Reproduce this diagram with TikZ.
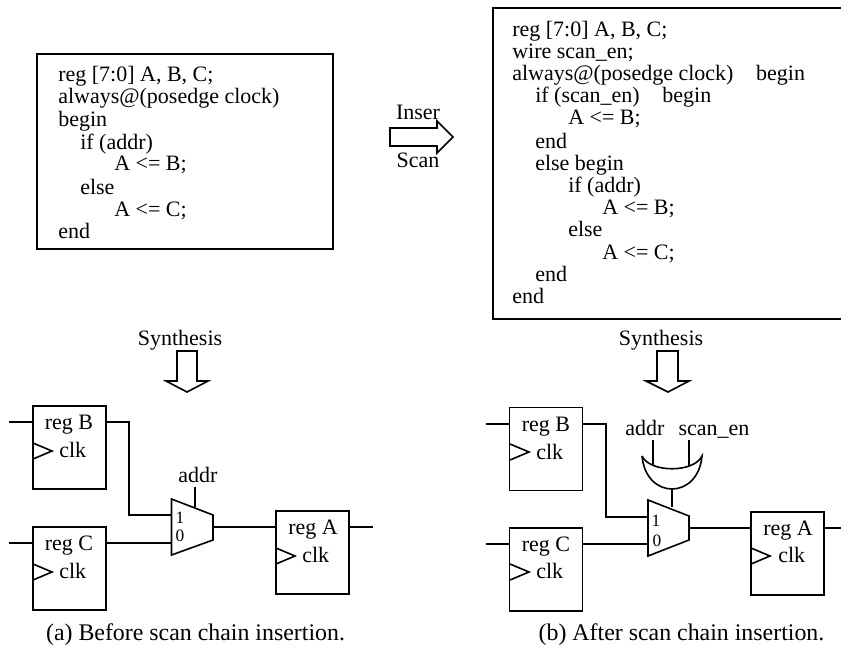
\documentclass[tikz,border=0pt]{standalone}
\usepackage{fontspec}
\setmainfont{Liberation Serif}
\begin{document}
\begin{tikzpicture}[x=0.75pt,y=-0.75pt]
		\tikzstyle{box}=[draw,line width=1.3pt,inner sep=0pt]
		\tikzstyle{reg}=[draw,line width=1.2pt,inner sep=0pt,minimum width=54.75pt,minimum height=62.25pt]
		\tikzstyle{txt}=[inner sep=0pt,anchor=base,font=\fontsize{16.5}{19}\selectfont]
		\tikzstyle{code}=[txt,anchor=base west]
		\tikzstyle{digit}=[txt,font=\fontsize{13}{15}\selectfont]
		\tikzstyle{wire}=[line width=1.2pt]
		\useasboundingbox (0,0) rectangle (841,649);
		
		% source before the scan insertion
		\node (srcA) at (185,151.5) [box,minimum width=222pt,minimum height=146pt] {};
		\node (a1) at (58,82) [code] {reg [7:0] A, B, C;};
		\node (a2) at (58,104) [code] {always@(posedge clock)};
		\node (a3) at (58,127) [code] {begin};
		\node (a4) at (80,149) [code] {if (addr)};
		\node (a5) at (114,171) [code] {A <= B;};
		\node (a6) at (80,194) [code] {else};
		\node (a7) at (114,216) [code] {A <= C;};
		\node (a8) at (58,238) [code] {end};
		
		% source after the scan insertion
		\node (srcB) at (669,163.5) [box,minimum width=264pt,minimum height=233.25pt] {};
		\node (b1) at (512,36.5) [code] {reg [7:0] A, B, C;};
		\node (b2) at (512,58.5) [code] {wire scan\_en;};
		\node (b3) at (512,81) [code] {always@(posedge clock)\hspace{17pt}begin};
		\node (b4) at (535,103) [code] {if (scan\_en)\hspace{17pt}begin};
		\node (b5) at (568,125) [code] {A <= B;};
		\node (b6) at (535,148) [code] {end};
		\node (b7) at (535,170) [code] {else begin};
		\node (b8) at (568,192) [code] {if (addr)};
		\node (b9) at (602,214) [code] {A <= B;};
		\node (b10) at (568,236) [code] {else};
		\node (b11) at (602,259) [code] {A <= C;};
		\node (b12) at (535,281) [code] {end};
		\node (b13) at (512,303) [code] {end};
		
		% block arrows
		\node (inser) at (418,120) [txt] {Inser};
		\node (scan) at (418,167) [txt] {Scan};
		\draw[wire] (390,128)--(437,128)--(437,121)--(453,137)--(437,153)--(437,146)--(390,146)--cycle;
		\node (synA) at (180,345) [txt] {Synthesis};
		\draw[wire] (177,351)--(197,351)--(197,381)--(208,381)--(187,392)--(166,381)--(177,381)--cycle;
		\node (synB) at (661,345) [txt] {Synthesis};
		\draw[wire] (657,351)--(678,351)--(678,381)--(689,381)--(668,392)--(646,381)--(657,381)--cycle;
		
		% (a) registers
		\node (regBa) at (69.5,447.5) [reg] {};
		\node (regCa) at (69.5,568.5) [reg] {};
		\node (regAa) at (312.5,552.5) [reg] {};
		\node (nBa) at (69,429) [txt] {reg B};
		\node (nCa) at (69,550) [txt] {reg C};
		\node (nAa) at (313,534) [txt] {reg A};
		\node (cBa) at (59,457) [code] {clk};
		\node (cCa) at (59,578) [code] {clk};
		\node (cAa) at (302,562) [code] {clk};
		\coordinate (ckBa) at (33,451);
		\coordinate (ckCa) at (33,572);
		\coordinate (ckAa) at (276,556);
		\draw[wire] (ckBa)+(0,-8)--+(19,0)--+(0,8);
		\draw[wire] (ckCa)+(0,-8)--+(19,0)--+(0,8);
		\draw[wire] (ckAa)+(0,-8)--+(19,0)--+(0,8);
		
		% (a) mux
		\coordinate (muxTa) at (171.5,499);
		\coordinate (muxBa) at (171.5,555);
		\coordinate (in1a) at (171.5,515);
		\coordinate (in0a) at (171.5,543);
		\coordinate (outa) at (213,527);
		\coordinate (sela) at (195,507);
		\draw[wire] (muxTa)--(213,515)--(213,540)--(muxBa)--cycle;
		\node (m1a) at (180,523) [digit] {1};
		\node (m0a) at (180,541) [digit] {0};
		\node (addra) at (198,482) [txt] {addr};
		
		% (a) wires
		\coordinate (pBa) at (9,422);
		\coordinate (pCa) at (9,543);
		\coordinate (pAa) at (373,527);
		\coordinate (topa) at (195,487);
		\draw[wire] (pBa)--(regBa.west |- pBa);
		\draw[wire] (pCa)--(regCa.west |- pCa);
		\draw[wire] (regBa.east |- pBa)--(129,422)--(129,515)--(in1a);
		\draw[wire] (regCa.east |- in0a)--(in0a);
		\draw[wire] (outa)--(regAa.west |- outa);
		\draw[wire] (regAa.east |- pAa)--(pAa);
		\draw[wire] (topa)--(sela);
		\node (capa) at (195.5,640) [txt,font=\fontsize{17.9}{21}\selectfont] {(a) Before scan chain insertion.};
		
		% (b) registers
		\node (regBb) at (546,449) [reg] {};
		\node (regCb) at (546,569.5) [reg] {};
		\node (regAb) at (787.5,553.5) [reg] {};
		\node (nBb) at (546,431) [txt] {reg B};
		\node (nCb) at (546,551) [txt] {reg C};
		\node (nAb) at (788,535) [txt] {reg A};
		\node (cBb) at (536,459) [code] {clk};
		\node (cCb) at (536,578) [code] {clk};
		\node (cAb) at (778,562) [code] {clk};
		\coordinate (ckBb) at (510,452);
		\coordinate (ckCb) at (510,572);
		\coordinate (ckAb) at (751,556);
		\draw[wire] (ckBb)+(0,-8)--+(19,0)--+(0,8);
		\draw[wire] (ckCb)+(0,-8)--+(19,0)--+(0,8);
		\draw[wire] (ckAb)+(0,-8)--+(19,0)--+(0,8);
		
		% (b) mux and or gate
		\coordinate (muxTb) at (648,500);
		\coordinate (muxBb) at (648,556);
		\coordinate (in1b) at (648,517);
		\coordinate (in0b) at (648,544);
		\coordinate (outb) at (689,528);
		\coordinate (selb) at (672,507);
		\draw[wire] (muxTb)--(689,516)--(689,540)--(muxBb)--cycle;
		\node (m1b) at (656,526) [digit] {1};
		\node (m0b) at (657,546) [digit] {0};
		\coordinate (orL) at (642,456);
		\coordinate (orR) at (702,456);
		\coordinate (orB) at (672,489);
		\draw[wire] (orL) .. controls (650,473) and (694,473) .. (orR)
			.. controls (700,478) and (686,489) .. (orB)
			.. controls (658,489) and (644,478) .. (orL);
		\node (addrb) at (645,435) [txt] {addr};
		\node (scanen) at (714,435) [txt] {scan\_en};
		
		% (b) wires
		\coordinate (pBb) at (486,424);
		\coordinate (pCb) at (486,544);
		\coordinate (pAb) at (841,528);
		\coordinate (or1) at (653,440);
		\coordinate (or2) at (689,440);
		\coordinate (or1e) at (653,466);
		\coordinate (or2e) at (689,466);
		\draw[wire] (pBb)--(regBb.west |- pBb);
		\draw[wire] (pCb)--(regCb.west |- pCb);
		\draw[wire] (regBb.east |- pBb)--(606,424)--(606,517)--(in1b);
		\draw[wire] (regCb.east |- in0b)--(in0b);
		\draw[wire] (outb)--(regAb.west |- outb);
		\draw[wire] (regAb.east |- pAb)--(pAb);
		\draw[wire] (or1)--(or1e);
		\draw[wire] (or2)--(or2e);
		\draw[wire] (orB)--(selb);
		\node (capb) at (681.5,640) [txt,font=\fontsize{17.9}{21}\selectfont] {(b) After scan chain insertion.};
		
		\end{tikzpicture}
\end{document}
